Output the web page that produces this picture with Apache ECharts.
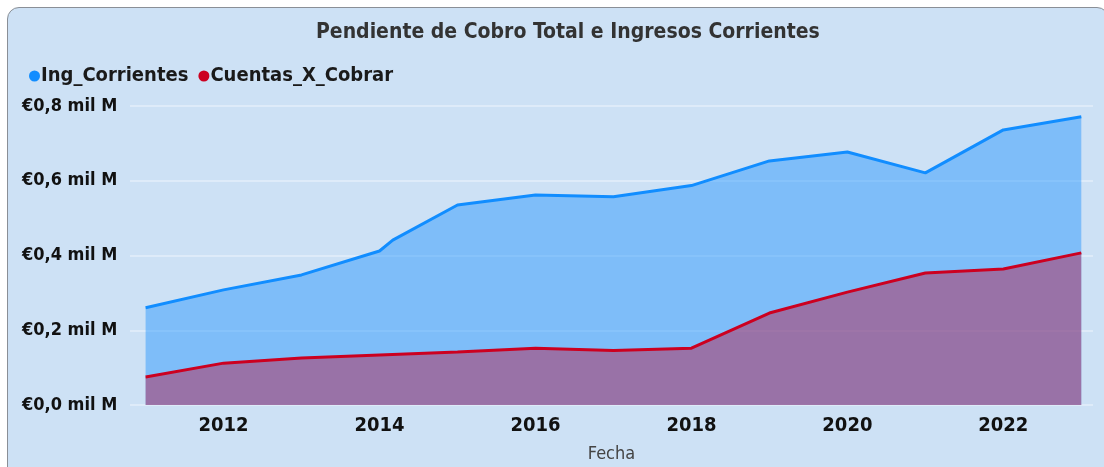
<!DOCTYPE html>
<html>
<head>
<meta charset="utf-8">
<script src="https://cdn.jsdelivr.net/npm/echarts@6/dist/echarts.min.js"></script>
<style>
  html, body { margin: 0; padding: 0; background: #fff; }
  .card {
    position: absolute; left: 7px; top: 7px; width: 1100px; height: 480px;
    background: #cde1f5; border: 1px solid #8a8f96; border-radius: 12px;
  }
  #chart { position: absolute; left: 0; top: 0; width: 1104px; height: 467px; }
</style>
</head>
<body>
<div class="card"></div>
<div id="chart"></div>
<script>
// años y valores (miles de millones)
var anios = [2011, 2012, 2013, 2014, 2014.17, 2015, 2016, 2017, 2018, 2019, 2020, 2021, 2022, 2023];
var ingCorrientes = [0.26, 0.308, 0.348, 0.412, 0.441, 0.535, 0.562, 0.557, 0.587, 0.653, 0.677, 0.621, 0.736, 0.771];

var aniosCxc = [2011, 2012, 2013, 2014, 2015, 2016, 2017, 2018, 2019, 2020, 2021, 2022, 2023];
var cuentasXCobrar = [0.075, 0.112, 0.126, 0.134, 0.142, 0.152, 0.146, 0.152, 0.246, 0.302, 0.353, 0.364, 0.407];

var etiquetasX = [2012, 2014, 2016, 2018, 2020, 2022];

function pares(xs, ys) {
    var res = [];
    for (var i = 0; i < xs.length; i++) {
        res.push([xs[i], ys[i]]);
    }
    return res;
}

var fuente = '"DejaVu Sans Condensed", "DejaVu Sans", sans-serif';

var myChart = echarts.init(document.getElementById('chart'));

var option = {
    animation: false,
    title: {
        text: 'Pendiente de Cobro Total e Ingresos Corrientes',
        left: 311,
        top: 17,
        textStyle: { fontFamily: fuente, fontSize: 21, fontWeight: 'bold', color: '#333' }
    },
    legend: {
        left: 24,
        top: 61,
        itemGap: 10,
        icon: 'circle',
        itemWidth: 11,
        itemHeight: 11,
        textStyle: { fontFamily: fuente, fontSize: 20, fontWeight: 'bold', color: '#1a1a1a', padding: [0, 0, 0, -4] },
        data: ['Ing_Corrientes', 'Cuentas_X_Cobrar']
    },
    grid: { left: 130, right: 11, top: 106, bottom: 62, outerBoundsMode: 'none' },
    xAxis: {
        type: 'value',
        min: 2010.8,
        max: 2023.15,
        name: 'Fecha',
        nameLocation: 'middle',
        nameGap: 40,
        nameTextStyle: { fontFamily: fuente, fontSize: 18, color: '#444' },
        axisLine: { show: false },
        axisTick: { show: false },
        splitLine: { show: false },
        axisLabel: {
            customValues: etiquetasX,
            margin: 11,
            fontFamily: fuente,
            fontSize: 20,
            fontWeight: 'bold',
            color: '#111',
            formatter: function (v) { return String(v); }
        }
    },
    yAxis: {
        type: 'value',
        min: 0,
        max: 0.8,
        interval: 0.2,
        axisLine: { show: false },
        axisTick: { show: false },
        splitLine: { lineStyle: { color: '#e3eefa', width: 1.5 } },
        axisLabel: {
            align: 'left',
            margin: 108,
            fontFamily: fuente,
            fontSize: 18,
            fontWeight: 'bold',
            color: '#111',
            formatter: function (v) {
                return '€' + v.toFixed(1).replace('.', ',') + ' mil M';
            }
        }
    },
    series: [
        {
            name: 'Ing_Corrientes',
            type: 'line',
            symbol: 'none',
            color: '#118dff',
            lineStyle: { color: '#118dff', width: 3 },
            areaStyle: { color: '#118dff', opacity: 0.42 },
            data: pares(anios, ingCorrientes)
        },
        {
            name: 'Cuentas_X_Cobrar',
            type: 'line',
            symbol: 'none',
            color: '#cc0020',
            lineStyle: { color: '#cc0020', width: 3 },
            areaStyle: { color: '#c0002a', opacity: 0.4 },
            data: pares(aniosCxc, cuentasXCobrar)
        }
    ]
};

myChart.setOption(option);
</script>
</body>
</html>
